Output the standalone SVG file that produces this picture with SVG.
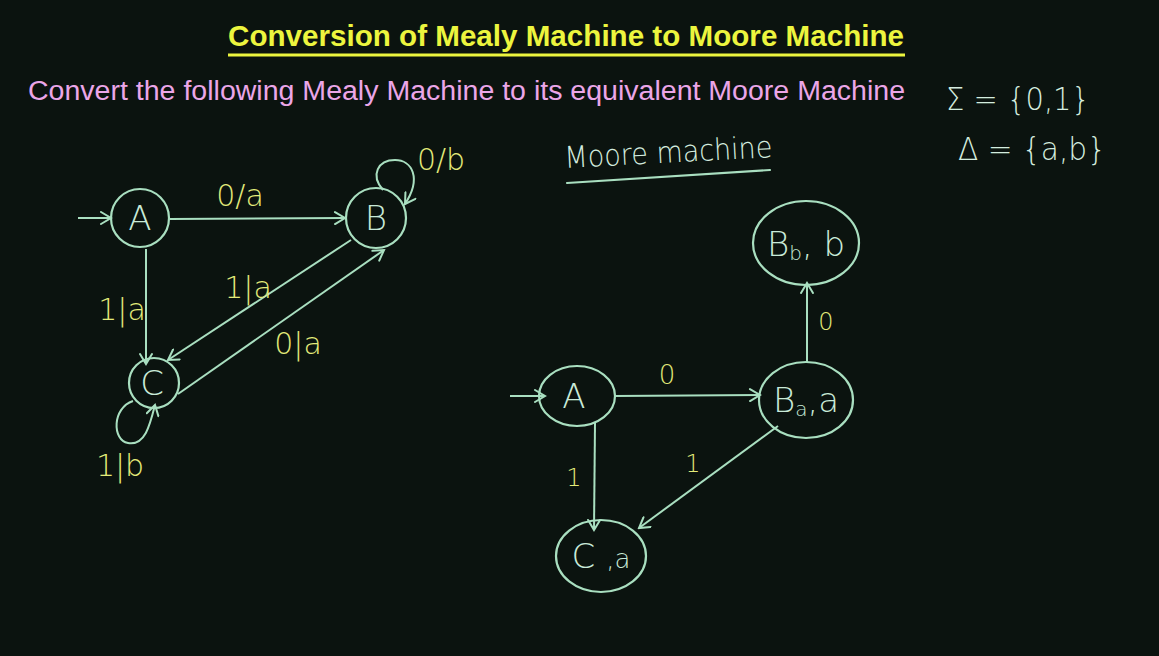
<svg xmlns="http://www.w3.org/2000/svg" width="1159" height="656" viewBox="0 0 1159 656">
<defs>
<marker id="ah" markerWidth="14" markerHeight="14" refX="12" refY="7" orient="auto" markerUnits="userSpaceOnUse">
<path d="M2,1 L12,7 L2,13" fill="none" stroke="#a9dfc0" stroke-width="2" stroke-linecap="round"/>
</marker>
</defs>
<style>
.bg{fill:#0b130f}
.st{fill:none;stroke:#a9dfc0;stroke-width:2.2;stroke-linecap:round}
.ed{fill:none;stroke:#a9dfc0;stroke-width:2;marker-end:url(#ah)}
.nl{fill:#c9ead8;font-family:"DejaVu Sans",sans-serif;font-weight:200;text-anchor:middle}
.lb{fill:#e3eb7a;font-family:"DejaVu Sans",sans-serif;font-weight:200;text-anchor:middle}
.hw{fill:#d4ecdf;font-family:"DejaVu Sans",sans-serif;font-weight:200}
.title{fill:#ecf53e;font-family:"Liberation Sans",sans-serif;font-weight:bold}
.sub{fill:#eba6e8;font-family:"Liberation Sans",sans-serif}
</style>
<rect class="bg" x="0" y="0" width="1159" height="656"/>

<text class="title" x="228" y="46" font-size="30" textLength="676" lengthAdjust="spacingAndGlyphs">Conversion of Mealy Machine to Moore Machine</text>
<line x1="228" y1="55" x2="905" y2="55" stroke="#ecf53e" stroke-width="3"/>
<text class="sub" x="28" y="100" font-size="27" textLength="877" lengthAdjust="spacingAndGlyphs">Convert the following Mealy Machine to its equivalent Moore Machine</text>

<text class="hw" x="946" y="110" font-size="32" textLength="144" lengthAdjust="spacingAndGlyphs">Σ = {0,1}</text>
<text class="hw" x="958" y="160" font-size="32" textLength="148" lengthAdjust="spacingAndGlyphs">Δ = {a,b}</text>

<text class="hw" x="565" y="168" font-size="30" textLength="208" lengthAdjust="spacingAndGlyphs" transform="rotate(-3 565 168)">Moore machine</text>
<line class="st" x1="567" y1="183" x2="770" y2="170"/>

<g id="connectors">
<!-- Mealy -->
<line class="ed" x1="78" y1="218" x2="111" y2="218"/>
<line class="ed" x1="170" y1="219" x2="345" y2="218"/>
<line class="ed" x1="146" y1="249" x2="146" y2="364"/>
<line class="ed" x1="351" y1="240" x2="168" y2="360"/>
<line class="ed" x1="178" y1="394" x2="384" y2="250"/>
<path class="ed" d="M383,190 C370,175 378,160 395,160 C412,160 422,178 405,204"/>
<path class="ed" d="M133,401 C112,408 112,440 128,443 C145,446 150,425 155,405"/>
<!-- Moore -->
<line class="ed" x1="510" y1="396" x2="545" y2="396"/>
<line class="ed" x1="615" y1="396" x2="760" y2="395"/>
<line class="ed" x1="807" y1="362" x2="807" y2="283"/>
<line class="ed" x1="595" y1="423" x2="594" y2="530"/>
<line class="ed" x1="778" y1="426" x2="639" y2="528"/>
</g>

<g id="labels">
<text class="lb" x="240" y="206" font-size="30">0/a</text>
<text class="lb" x="441" y="170" font-size="30">0/b</text>
<text class="lb" x="122" y="320" font-size="30">1|a</text>
<text class="lb" x="248" y="298" font-size="30">1|a</text>
<text class="lb" x="298" y="354" font-size="30">0|a</text>
<text class="lb" x="120" y="476" font-size="30">1|b</text>
<text class="lb" x="667" y="384" font-size="26">0</text>
<text class="lb" x="826" y="330" font-size="24">0</text>
<text class="lb" x="574" y="486" font-size="24">1</text>
<text class="lb" x="693" y="472" font-size="24">1</text>
</g>

<g id="mealy-A"><circle class="st" cx="140" cy="218" r="29"/><text class="nl" x="140" y="230" font-size="34">A</text></g>
<g id="mealy-B"><circle class="st" cx="376" cy="218" r="30"/><text class="nl" x="376" y="230" font-size="34">B</text></g>
<g id="mealy-C"><circle class="st" cx="154" cy="383" r="25"/><text class="nl" x="152" y="395" font-size="34">C</text></g>

<g id="moore-A"><ellipse class="st" cx="577" cy="396" rx="38" ry="30"/><text class="nl" x="574" y="408" font-size="34">A</text></g>
<g id="moore-Bb"><ellipse class="st" cx="806" cy="243" rx="53" ry="42"/><text class="nl" x="806" y="256" font-size="34">B<tspan font-size="20" dy="4">b</tspan><tspan dy="-4">, b</tspan></text></g>
<g id="moore-Ba"><ellipse class="st" cx="806" cy="400" rx="47" ry="38"/><text class="nl" x="806" y="412" font-size="34">B<tspan font-size="20" dy="4">a</tspan><tspan dy="-4">,a</tspan></text></g>
<g id="moore-Ca"><ellipse class="st" cx="601" cy="556" rx="45" ry="36"/><text class="nl" x="601" y="568" font-size="34">C <tspan font-size="26">,a</tspan></text></g>
</svg>
